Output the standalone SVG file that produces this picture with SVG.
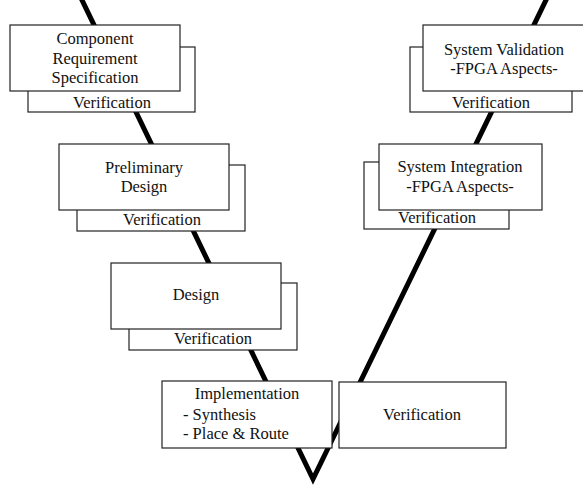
<svg xmlns="http://www.w3.org/2000/svg" width="583" height="486" viewBox="0 0 583 486" font-family="'Liberation Serif', 'DejaVu Serif', serif">
<style>
rect{fill:#fff;stroke:#222;stroke-width:1.2}
text{font-family:'Liberation Serif', serif;font-size:16.5px;fill:#111;text-anchor:middle}
.l{text-anchor:start}
.v{fill:none;stroke:#000;stroke-width:5;stroke-linejoin:miter;stroke-miterlimit:10}
</style>
<rect width="583" height="486" style="fill:#fff;stroke:none"/>
<g id="connectors">
<polyline class="v" points="81,-2 313,479 547,-2"/>
</g>
<g id="component-requirement-specification">
<rect x="28" y="47" width="167" height="65"/>
<rect x="10" y="25" width="170" height="66"/>
<text x="95" y="44">Component</text>
<text x="95" y="64">Requirement</text>
<text x="95" y="83">Specification</text>
<text x="112" y="108">Verification</text>
</g>
<g id="system-validation">
<rect x="410" y="47" width="162" height="65"/>
<rect x="423" y="25" width="170" height="66"/>
<text x="504" y="55">System Validation</text>
<text x="504" y="74">-FPGA Aspects-</text>
<text x="491" y="108">Verification</text>
</g>
<g id="preliminary-design">
<rect x="77" y="165" width="168" height="66"/>
<rect x="59" y="144" width="170" height="66"/>
<text x="144" y="173">Preliminary</text>
<text x="144" y="192">Design</text>
<text x="162" y="225">Verification</text>
</g>
<g id="system-integration">
<rect x="364" y="162" width="145" height="67"/>
<rect x="379" y="144" width="163" height="66"/>
<text x="460" y="172">System Integration</text>
<text x="460" y="192">-FPGA Aspects-</text>
<text x="437" y="223">Verification</text>
</g>
<g id="design">
<rect x="129" y="283" width="168" height="67"/>
<rect x="111" y="263" width="170" height="66"/>
<text x="196" y="300">Design</text>
<text x="213" y="344">Verification</text>
</g>
<g id="implementation">
<rect x="162" y="381" width="170" height="67"/>
<text x="247" y="399">Implementation</text>
<text class="l" x="183" y="420">- Synthesis</text>
<text class="l" x="183" y="439">- Place &amp; Route</text>
</g>
<g id="verification">
<rect x="339" y="382" width="167" height="66"/>
<text x="422" y="420">Verification</text>
</g>
</svg>
